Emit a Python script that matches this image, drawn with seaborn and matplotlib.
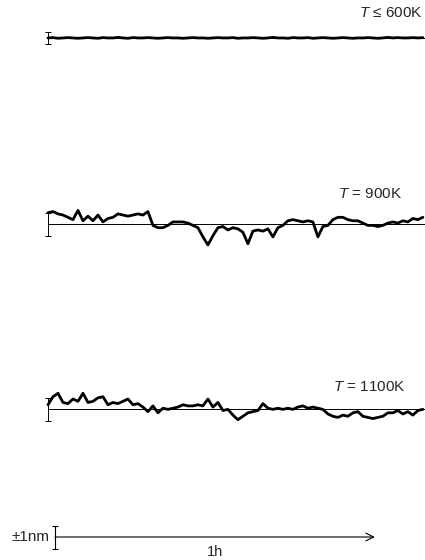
import numpy as np
import pandas as pd
import seaborn as sns
import matplotlib.pyplot as plt

# ----------------------------------------
# data (deviation in nm, one sample every ~0.94 min)
# ----------------------------------------
labels = ["$T$ ≤ 600K", "$T$ = 900K", "$T$ = 1100K"]

dev_600 = [0.0, 0.03, -0.03, 0.0, 0.03, 0.0, -0.03, 0.0, 0.03, 0.0,
           -0.03, 0.03, 0.0, 0.0, 0.05, 0.0, -0.03, 0.03, 0.0, 0.0,
           0.03, 0.0, -0.03, 0.0, 0.03, 0.0, 0.0, -0.03, 0.0, 0.03,
           0.0, 0.0, -0.03, 0.0, 0.03, 0.0, 0.0, 0.03, -0.03, 0.0,
           0.0, 0.03, 0.0, -0.03, 0.0, 0.05, 0.0, 0.0, -0.03, 0.03,
           0.0, 0.0, 0.03, -0.03, 0.0, 0.03, 0.0, -0.03, 0.0, 0.03,
           0.0, -0.03, 0.0, 0.0, 0.03, 0.0, -0.03, 0.0, 0.05, 0.0,
           0.03, 0.0, 0.0, 0.03, 0.0, 0.03]

dev_900 = [1.0, 1.1, 0.9, 0.8, 0.6, 0.4, 1.2, 0.3, 0.7, 0.3,
           0.8, 0.2, 0.5, 0.6, 0.9, 0.8, 0.7, 0.8, 0.9, 0.8,
           1.1, -0.1, -0.3, -0.3, -0.1, 0.2, 0.2, 0.2, 0.1, -0.1,
           -0.3, -1.1, -1.8, -1.0, -0.3, -0.2, -0.5, -0.3, -0.4, -0.7,
           -1.7, -0.6, -0.5, -0.6, -0.4, -1.1, -0.3, -0.1, 0.3, 0.4,
           0.3, 0.2, 0.3, 0.2, -1.1, -0.2, -0.1, 0.4, 0.6, 0.6,
           0.4, 0.3, 0.3, 0.1, -0.1, -0.1, -0.2, -0.1, 0.1, 0.2,
           0.1, 0.3, 0.2, 0.5, 0.4, 0.6]

dev_1100 = [0.4, 1.1, 1.4, 0.6, 0.5, 0.9, 0.7, 1.4, 0.6, 0.7,
            1.0, 1.1, 0.4, 0.6, 0.5, 0.7, 0.9, 0.4, 0.5, 0.2,
            -0.2, 0.3, -0.3, 0.1, 0.0, 0.1, 0.2, 0.4, 0.3, 0.3,
            0.4, 0.3, 0.9, 0.2, 0.6, -0.1, 0.0, -0.5, -0.9, -0.6,
            -0.3, -0.2, -0.1, 0.5, 0.1, 0.0, 0.1, 0.0, 0.1, 0.0,
            0.2, 0.3, 0.1, 0.2, 0.1, 0.0, -0.4, -0.6, -0.7, -0.5,
            -0.6, -0.3, -0.2, -0.6, -0.7, -0.8, -0.7, -0.6, -0.3, -0.3,
            -0.1, -0.4, -0.2, -0.5, -0.1, 0.0]

traces = [dev_600, dev_900, dev_1100]
offsets = [45.4, 29.2, 13.1]      # vertical position of each record (nm)
bar_halfwidth = [0.55, 1.0, 1.0]  # little "I" marks at the start of each record
t_end = 70.3                      # minutes covered by each record

scale_y = 2.0
scale_start = 1.3
scale_len = 60.0                  # 1 h

# ----------------------------------------
# build long table
# ----------------------------------------
frames = []
for lab, dev, off in zip(labels, traces, offsets):
    t = np.linspace(0, t_end, len(dev))
    frames.append(pd.DataFrame({"t": t, "z": np.array(dev) + off, "T": lab}))
df = pd.concat(frames, ignore_index=True)

sns.set_style("white")
plt.rcParams["font.family"] = ["Liberation Sans", "DejaVu Sans"]
plt.rcParams["mathtext.fontset"] = "custom"
plt.rcParams["mathtext.rm"] = "Liberation Sans"
plt.rcParams["mathtext.it"] = "Liberation Sans:italic"

fig = plt.figure(figsize=(4.25, 5.6), dpi=100)
ax = fig.add_axes([0, 0, 1, 1])

sns.lineplot(data=df, x="t", y="z", units="T", estimator=None,
             color="black", lw=2.0, ax=ax, legend=False)

# thin reference lines + start marks
for off, hw in zip(offsets, bar_halfwidth):
    ax.plot([0, t_end + 2], [off, off], color="black", lw=0.7)
    ax.errorbar([0], [off], yerr=[hw], color="black", lw=0.7,
                capsize=2, capthick=0.7)

# labels
label_pos = [(0.995, 0.977), (0.945, 0.654), (0.955, 0.309)]
for lab, (x, y) in zip(labels, label_pos):
    ax.text(x, y, lab, transform=ax.transAxes, ha="right", va="center",
            fontsize=11)

# scale bar
ax.errorbar([scale_start], [scale_y], yerr=[1.0], color="black", lw=0.8,
            capsize=2, capthick=0.8)
ax.annotate("", xy=(scale_start + scale_len, scale_y), xytext=(scale_start, scale_y),
            arrowprops=dict(arrowstyle="->", lw=0.8, color="black",
                            mutation_scale=14, shrinkA=0, shrinkB=0))
ax.text(scale_start - 1.0, scale_y, "±1nm", ha="right", va="center", fontsize=11)
ax.text(scale_start + scale_len / 2, scale_y - 1.3, "1h", ha="center", va="center",
        fontsize=10.5)

ax.set_xlim(-9.0, 70.7)
ax.set_ylim(0, 48.7)
ax.set_axis_off()

fig.savefig("out.png", dpi=100, facecolor="white")
plt.close(fig)
